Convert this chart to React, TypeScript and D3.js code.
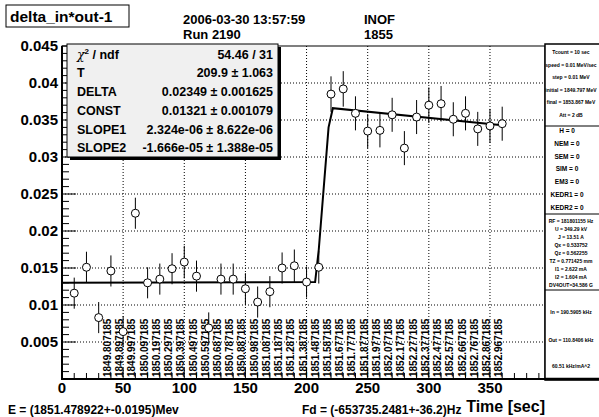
import React from "react";
import * as d3 from "d3";

const times = [10, 20, 30, 40, 50, 60, 70, 80, 90, 100, 110, 120, 130, 140, 150, 160, 170, 180, 190, 200, 210, 220, 230, 240, 250, 260, 270, 280, 290, 300, 310, 320, 330, 340, 350, 360];
const values = [0.0116, 0.0151, 0.0083, 0.0146, 0.0064, 0.0224, 0.0130, 0.0135, 0.0149, 0.0158, 0.0139, 0.0069, 0.0135, 0.0135, 0.0122, 0.0104, 0.0118, 0.0150, 0.0153, 0.0131, 0.0151, 0.0385, 0.0392, 0.0359, 0.0335, 0.0336, 0.0357, 0.0312, 0.0354, 0.0370, 0.0372, 0.0351, 0.0359, 0.0338, 0.0342, 0.0345];
const errors = [0.0021, 0.0021, 0.0021, 0.0021, 0.0021, 0.0021, 0.0021, 0.0021, 0.0021, 0.0022, 0.0021, 0.0021, 0.0021, 0.0021, 0.0021, 0.0021, 0.0021, 0.0021, 0.0022, 0.0021, 0.0022, 0.0024, 0.0024, 0.0023, 0.0023, 0.0023, 0.0023, 0.0023, 0.0023, 0.0024, 0.0024, 0.0023, 0.0023, 0.0023, 0.0023, 0.0023];

const fitT = [0, 207, 210, 218, 221.5, 360];
const fitV = [0.0130, 0.0131, 0.0175, 0.0340, 0.0366, 0.0343];

const xTicks = [0, 50, 100, 150, 200, 250, 300, 350];
const yTicks = [0.005, 0.01, 0.015, 0.02, 0.025, 0.03, 0.035, 0.04, 0.045];
const yTickLabels = ["0.005", "0.01", "0.015", "0.02", "0.025", "0.03", "0.035", "0.04", "0.045"];

const energyT = [40, 50, 60, 70, 80, 90, 100, 110, 120, 130, 140, 150, 160, 170, 180, 190, 200, 210, 220, 230, 240, 250, 260, 270, 280, 290, 300, 310, 320, 330, 340, 350, 360];
const energyLabels = ["1849.807185", "1849.897185", "1849.997185", "1850.097185", "1850.197185", "1850.297185", "1850.397185", "1850.497185", "1850.597185", "1850.687185", "1850.787185", "1850.887185", "1850.987185", "1851.087185", "1851.187185", "1851.287185", "1851.387185", "1851.487185", "1851.587185", "1851.677185", "1851.777185", "1851.877185", "1851.977185", "1852.077185", "1852.177185", "1852.277185", "1852.377185", "1852.477185", "1852.577185", "1852.667185", "1852.767185", "1852.867185", "1852.967185"];

const statNames = ["T", "DELTA", "CONST", "SLOPE1", "SLOPE2"];
const statValues = ["209.9 \u00b1 1.063", "0.02349 \u00b1 0.001625", "0.01321 \u00b1 0.001079", "2.324e-06 \u00b1 8.622e-06", "-1.666e-05 \u00b1 1.388e-05"];

const panel1 = ["Tcount = 10 sec", "speed = 0.01 MeV/sec", "step = 0.01 MeV", "initial = 1849.797 MeV", "final = 1853.867 MeV", "Att = 2 dB"];
const panel2 = ["H = 0", "NEM = 0", "SEM = 0", "SIM = 0", "EM3 = 0", "KEDR1 = 0", "KEDR2 = 0"];
const panel3 = ["RF = 181801155  Hz", "U = 349.29 kV", "J = 13.51 A", "Qx = 0.533752", "Qz = 0.562255", "TZ = 0.771425 mm", "I1 = 2.622 mA", "I2 = 1.604 mA", "DV4OUT=34.586 G"];
const panel4 = ["In = 190.5905  kHz", "Out = 110.8406  kHz", "60.51 kHz/mA^2"];

const FONT = "'Liberation Sans', Arial, Helvetica, sans-serif";

export default function App() {
  const W = 599, H = 417;
  const X0 = 62, X1 = 545, Y0 = 379, Y1 = 46;
  const x = d3.scaleLinear().domain([0, 395]).range([X0, X1]);
  const y = d3.scaleLinear().domain([0, 0.045]).range([Y0, Y1]);
  const line = d3.line<number>().x((d, i) => x(fitT[i])).y((d) => y(d));
  const xMinor = x.ticks(40);
  const yMinor = y.ticks(45);

  const statRowY = [73, 92, 111, 130, 148];

  return (
    <svg width={W} height={H} style={{ position: "absolute", left: 0, top: 0, background: "#fff" }} fontFamily={FONT}>
      <rect x={0} y={0} width={W} height={H} fill="#fff" />
      {/* grid */}
      {xTicks.filter((t) => t > 0).map((t) => (
        <line key={"gx" + t} x1={x(t)} x2={x(t)} y1={Y1} y2={Y0} stroke="#000" strokeWidth={1} strokeDasharray="1,2" />
      ))}
      {yTicks.filter((t) => t < 0.045).map((t) => (
        <line key={"gy" + t} x1={X0} x2={X1} y1={y(t)} y2={y(t)} stroke="#000" strokeWidth={1} strokeDasharray="1,2" />
      ))}
      {/* energy labels */}
      {energyT.map((t, i) => (
        <text key={"e" + i} transform={`translate(${x(t)},${Y0 - 2}) rotate(-90)`} fontSize={10} fontWeight="bold" fill="#000">
          {energyLabels[i]}
        </text>
      ))}
      {/* fit line */}
      <path d={line(fitV) || ""} fill="none" stroke="#000" strokeWidth={2} />
      {/* points */}
      {times.map((t, i) => {
        const cy = y(values[i]);
        return (
          <g key={"p" + i}>
            <line x1={x(t)} x2={x(t)} y1={y(values[i] + errors[i])} y2={y(values[i] - errors[i])} stroke="#000" strokeWidth={1} />
            <circle cx={x(t)} cy={cy} r={4} fill="#fff" stroke="#000" strokeWidth={1} />
          </g>
        );
      })}
      {/* frame */}
      <rect x={X0} y={Y1} width={X1 - X0} height={Y0 - Y1} fill="none" stroke="#000" strokeWidth={1} />
      <line x1={X0} x2={X0} y1={Y1} y2={Y0 + 1} stroke="#000" strokeWidth={2} />
      <line x1={X0 - 1} x2={X1} y1={Y0} y2={Y0} stroke="#000" strokeWidth={2} />
      {/* x ticks */}
      {xMinor.map((t) => (
        <line key={"xm" + t} x1={x(t)} x2={x(t)} y1={Y0} y2={Y0 - (t % 50 === 0 ? 11 : 6)} stroke="#000" strokeWidth={1} />
      ))}
      {yMinor.map((t, i) => (
        <line key={"ym" + i} x1={X0} x2={X0 + (i % 5 === 0 ? 14 : 7)} y1={y(t)} y2={y(t)} stroke="#000" strokeWidth={1} />
      ))}
      {xTicks.map((t) => (
        <text key={"xl" + t} x={x(t)} y={Y0 + 14} textAnchor="middle" fontSize={15} fontWeight="bold">{t}</text>
      ))}
      {yTicks.map((t, i) => (
        <text key={"yl" + i} x={X0 - 4} y={y(t) + 5} textAnchor="end" fontSize={15} fontWeight="bold">{yTickLabels[i]}</text>
      ))}
      <text x={X1} y={412} textAnchor="end" fontSize={16} fontWeight="bold">Time [sec]</text>
      <text x={8} y={414} fontSize={12} fontWeight="bold">E = (1851.478922+-0.0195)Mev</text>
      <text x={302} y={414} fontSize={12} fontWeight="bold">Fd = (-653735.2481+-36.2)Hz</text>

      {/* stats box */}
      <rect x={70} y={47} width={211} height={113} fill="#000" />
      <rect x={67} y={44} width={211} height={113} fill="#f0f0f0" stroke="#000" strokeWidth={1} />
      <text x={77} y={59} fontSize={12.5} fontWeight="bold">
        <tspan fontFamily="'DejaVu Serif', serif" fontStyle="italic" fontWeight="normal">χ</tspan>
        <tspan fontSize={8} dy={-5}>2</tspan>
        <tspan dy={5}> / ndf</tspan>
      </text>
      <text x={273} y={59} textAnchor="end" fontSize={12.5} fontWeight="bold">54.46 / 31</text>
      {statNames.map((n, i) => (
        <g key={"s" + i}>
          <text x={77} y={statRowY[i] + 4} fontSize={12.5} fontWeight="bold">{n}</text>
          <text x={273} y={statRowY[i] + 4} textAnchor="end" fontSize={12.5} fontWeight="bold">{statValues[i]}</text>
        </g>
      ))}

      {/* title */}
      <rect x={6} y={5} width={123} height={22} fill="#fff" stroke="#000" strokeWidth={1} />
      <text x={10} y={22} fontSize={15.5} fontWeight="bold">delta_in*out-1</text>
      <text x={183} y={24} fontSize={13} fontWeight="bold">2006-03-30 13:57:59</text>
      <text x={183} y={39} fontSize={13} fontWeight="bold">Run 2190</text>
      <text x={364} y={24} fontSize={13} fontWeight="bold">INOF</text>
      <text x={364} y={39} fontSize={13} fontWeight="bold">1855</text>

      {/* right panel */}
      <g>
        <rect x={X1} y={Y1 - 2} width={60} height={Y0 - Y1 + 3} fill="#fff" stroke="#000" strokeWidth={1.5} />
        <line x1={X1} x2={W} y1={126} y2={126} stroke="#000" strokeWidth={1} />
        <line x1={X1} x2={W} y1={214} y2={214} stroke="#000" strokeWidth={1} />
        <line x1={X1} x2={W} y1={290} y2={290} stroke="#000" strokeWidth={1} />
        <line x1={X1} x2={W} y1={Y0} y2={Y0} stroke="#000" strokeWidth={2.5} />
        {panel1.map((s, i) => (
          <text key={"a" + i} x={571} y={54 + i * 12.6} textAnchor="middle" fontSize={5} fontWeight="bold">{s}</text>
        ))}
        {panel2.map((s, i) => (
          <text key={"b" + i} x={567} y={133 + i * 12.8} textAnchor="middle" fontSize={6.5} fontWeight="bold">{s}</text>
        ))}
        {panel3.map((s, i) => (
          <text key={"c" + i} x={571} y={223 + i * 8} textAnchor="middle" fontSize={5} fontWeight="bold">{s}</text>
        ))}
        {panel4.map((s, i) => (
          <text key={"d" + i} x={571} y={[314, 342, 368][i]} textAnchor="middle" fontSize={5} fontWeight="bold">{s}</text>
        ))}
      </g>
    </svg>
  );
}
